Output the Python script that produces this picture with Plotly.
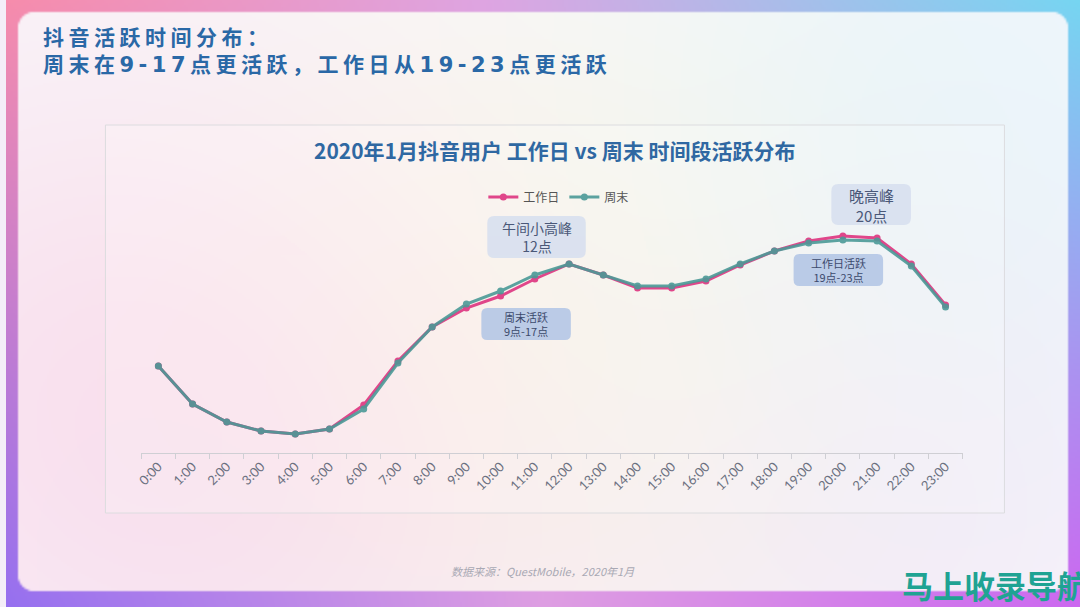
import base64
import struct
import zlib

import numpy as np
import plotly.graph_objects as go

# ---- data (activity index, no y axis in the original) ----
hours = [f"{h}:00" for h in range(24)]
weekday = [4.35, 2.45, 1.55, 1.10, 0.95, 1.20, 2.40, 4.60, 6.30, 7.25, 7.85, 8.70,
           9.45, 8.90, 8.25, 8.25, 8.60, 9.40, 10.10, 10.60, 10.85, 10.75, 9.45, 7.40]
weekend = [4.35, 2.45, 1.55, 1.10, 0.95, 1.20, 2.20, 4.50, 6.30, 7.45, 8.10, 8.90,
           9.45, 8.90, 8.35, 8.35, 8.70, 9.45, 10.10, 10.50, 10.65, 10.60, 9.35, 7.30]

W, H = 1080, 607


def px(x):
    return x / W


def py(y):
    return 1 - y / H


# ---- background picture: gradient frame + pale card ----
def make_background(scale=2):
    w, h = W // scale, int(np.ceil(H / scale))
    X = (np.arange(w) + 0.5) * scale
    Y = (np.arange(h) + 0.5) * scale
    XX, YY = np.meshgrid(X, Y)
    u = XX / W
    v = YY / H

    def row(stops, t):
        xs = [s[0] for s in stops]
        out = np.zeros(t.shape + (3,))
        for c in range(3):
            out[..., c] = np.interp(t, xs, [s[1][c] for s in stops])
        return out

    top = row([(0, (247, 140, 172)), (0.45, (222, 165, 226)), (1, (118, 214, 242))], u)
    bot = row([(0, (150, 112, 240)), (0.5, (222, 158, 226)), (1, (204, 104, 240))], u)
    frame = top * (1 - v[..., None]) + bot * v[..., None]

    base = np.array([250, 248, 251], float)
    card = np.broadcast_to(base, frame.shape).copy()
    blobs = [
        (60, 380, 260, (250, 232, 242)),
        (300, 520, 260, (248, 236, 248)),
        (560, 330, 240, (253, 251, 236)),
        (950, 120, 260, (236, 246, 252)),
        (900, 520, 220, (246, 238, 250)),
    ]
    for cx, cy, s, col in blobs:
        wgt = np.exp(-((XX - cx) ** 2 + (YY - cy) ** 2) / (2 * s * s))
        card += wgt[..., None] * (np.array(col, float) - base)

    # rounded card mask
    cx, cy = (12 + 1068) / 2, (12 + 592) / 2
    hx, hy, r = (1068 - 12) / 2, (592 - 12) / 2, 16
    qx = np.abs(XX - cx) - (hx - r)
    qy = np.abs(YY - cy) - (hy - r)
    d = np.hypot(np.maximum(qx, 0), np.maximum(qy, 0)) + np.minimum(np.maximum(qx, qy), 0) - r
    m = np.clip(0.5 - d / 1.5, 0, 1)[..., None]
    img = np.clip(frame * (1 - m) + card * m, 0, 255).astype(np.uint8)

    raw = np.zeros((h, w * 3 + 1), np.uint8)
    raw[:, 1:] = img.reshape(h, -1)

    def chunk(t, data):
        return struct.pack(">I", len(data)) + t + data + struct.pack(">I", zlib.crc32(t + data) & 0xFFFFFFFF)

    png = (b"\x89PNG\r\n\x1a\n"
           + chunk(b"IHDR", struct.pack(">IIBBBBB", w, h, 8, 2, 0, 0, 0))
           + chunk(b"IDAT", zlib.compress(raw.tobytes(), 9))
           + chunk(b"IEND", b""))
    return "data:image/png;base64," + base64.b64encode(png).decode()


def rounded_rect(x0, y0, x1, y1, r=6):
    # pixel box -> paper path with rounded corners
    rx, ry = r / W, r / H
    X0, X1 = px(x0), px(x1)
    Y0, Y1 = py(y1), py(y0)
    return (f"M {X0 + rx},{Y0} L {X1 - rx},{Y0} Q {X1},{Y0} {X1},{Y0 + ry} "
            f"L {X1},{Y1 - ry} Q {X1},{Y1} {X1 - rx},{Y1} L {X0 + rx},{Y1} "
            f"Q {X0},{Y1} {X0},{Y1 - ry} L {X0},{Y0 + ry} Q {X0},{Y0} {X0 + rx},{Y0} Z")


FONT = "Noto Sans CJK SC"
PINK = "#e0468a"
TEAL = "#4b9a97"

fig = go.Figure()

fig.add_trace(go.Scatter(
    x=hours, y=weekday, name="工作日", mode="lines+markers",
    line=dict(color=PINK, width=3), marker=dict(size=7, color=PINK),
))
fig.add_trace(go.Scatter(
    x=hours, y=weekend, name="周末", mode="lines+markers",
    line=dict(color=TEAL, width=3), marker=dict(size=7, color=TEAL),
    opacity=0.9,
))

shapes = [
    # chart frame
    dict(type="rect", xref="paper", yref="paper", x0=px(100), x1=px(1004), y0=py(513), y1=py(125),
         line=dict(color="#dcdcdf", width=1), fillcolor="rgba(255,255,255,0.2)", layer="below"),
    # callout boxes
    dict(type="path", xref="paper", yref="paper", path=rounded_rect(484, 216, 583, 258, 7),
         fillcolor="rgba(214,222,238,0.85)", line=dict(width=0), layer="below"),
    dict(type="path", xref="paper", yref="paper", path=rounded_rect(478, 308, 568, 340, 6),
         fillcolor="rgba(180,198,230,0.9)", line=dict(width=0), layer="below"),
    dict(type="path", xref="paper", yref="paper", path=rounded_rect(830, 184, 910, 225, 7),
         fillcolor="rgba(214,222,238,0.85)", line=dict(width=0), layer="below"),
    dict(type="path", xref="paper", yref="paper", path=rounded_rect(792, 254, 882, 286, 6),
         fillcolor="rgba(180,198,230,0.9)", line=dict(width=0), layer="below"),
]

annotations = [
    dict(text="<b>抖音活跃时间分布：<br>周末在9-17点更活跃，工作日从19-23点更活跃</b>",
         x=px(35), y=py(52), xanchor="left", yanchor="middle", align="left",
         font=dict(family="DejaVu Sans, Noto Sans CJK SC", size=21, color="#2a68a6")),
    dict(text="<b>2020年1月抖音用户 工作日 vs 周末 时间段活跃分布</b>", x=px(552), y=py(150),
         xanchor="center", yanchor="middle", font=dict(family=FONT, size=21, color="#2f68a2")),
    dict(text="午间小高峰<br>12点", x=px(533.5), y=py(237), xanchor="center", yanchor="middle",
         font=dict(family=FONT, size=14, color="#4a5878")),
    dict(text="周末活跃<br>9点-17点", x=px(523), y=py(324), xanchor="center", yanchor="middle",
         font=dict(family=FONT, size=11, color="#3c4a6c")),
    dict(text="晚高峰<br>20点", x=px(870), y=py(205), xanchor="center", yanchor="middle",
         font=dict(family=FONT, size=15, color="#4a5878")),
    dict(text="工作日活跃<br>19点-23点", x=px(837), y=py(270), xanchor="center", yanchor="middle",
         font=dict(family=FONT, size=11, color="#3c4a6c")),
    dict(text="<i>数据来源：QuestMobile，2020年1月</i>", x=px(540), y=py(571), xanchor="center",
         yanchor="middle", font=dict(family=FONT, size=11, color="#a9a9b4")),
    dict(text="<b>马上收录导航</b>", x=px(899), y=py(584), xanchor="left", yanchor="middle",
         font=dict(family=FONT, size=31, color="#1fa393")),
]
for a in annotations:
    a.setdefault("align", "center")
    a.update(xref="paper", yref="paper", showarrow=False)

fig.update_layout(
    width=W, height=H, autosize=False,
    margin=dict(l=0, r=0, t=0, b=0),
    paper_bgcolor="#f4eef8", plot_bgcolor="rgba(0,0,0,0)",
    font=dict(family=FONT),
    images=[dict(source=make_background(), xref="paper", yref="paper", x=0, y=1,
                 sizex=1, sizey=1, sizing="stretch", xanchor="left", yanchor="top",
                 layer="below")],
    shapes=shapes,
    annotations=annotations,
    showlegend=True,
    legend=dict(orientation="h", x=px(480), y=py(197), xanchor="left", yanchor="middle",
                font=dict(family=FONT, size=12, color="#555555"), bgcolor="rgba(0,0,0,0)",
                itemwidth=30),
    xaxis=dict(
        domain=[px(136), px(962)], type="category", range=[-0.5, 23.5],
        showline=True, linecolor="#cfcfd4", linewidth=1,
        ticks="outside", tickson="boundaries", ticklen=5, tickcolor="#cfcfd4",
        tickangle=-45, tickfont=dict(family="Lato", size=13, color="#6b7080"),
        showgrid=False, zeroline=False,
    ),
    yaxis=dict(
        domain=[py(453), py(220)], range=[0, 11.65], visible=False,
        showgrid=False, zeroline=False,
    ),
    hovermode=False,
)

# drop the default 8px body margin and space out the heading letters like the original
post = """
document.body.style.margin = '0';
document.querySelectorAll('.annotation-text').forEach(function (el) {
  if (el.textContent.indexOf('抖音活跃') === 0) { el.style.letterSpacing = '4.5px'; }
});
"""
fig.write_html("out.html", config={"displayModeBar": False}, post_script=post)
